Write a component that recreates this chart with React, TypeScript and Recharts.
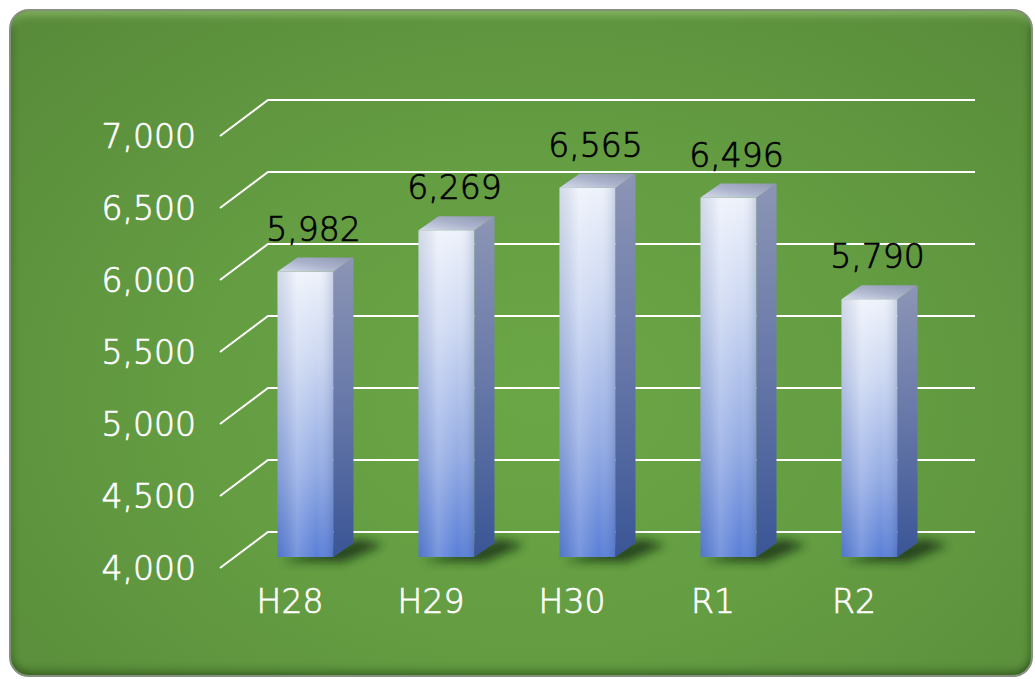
import React from 'react';
import { BarChart, Bar, XAxis, YAxis, CartesianGrid, LabelList } from 'recharts';

const categories = ['H28', 'H29', 'H30', 'R1', 'R2'];
const values = [5982, 6269, 6565, 6496, 5790];
const yTicks = [4000, 4500, 5000, 5500, 6000, 6500, 7000];

const data = categories.map((c, i) => ({ name: c, value: values[i] }));

const FONT = '"DejaVu Sans", Verdana, sans-serif';
const FW = 300;
const FS = 33;
const SW = 0.7;
const DX = 20;
const DY = 14;

const fmt = (v: number) => String(v).replace(/\B(?=(\d{3})+(?!\d))/g, ',');

const Bar3D = (props: any) => {
  const { x, y, width: w, height: h } = props;
  if (w == null || h == null) return null;
  const b = y + h;
  return (
    <g>
      <polygon
        points={`${x + 4},${b + 4} ${x + w + 10},${b + 5} ${x + w + DX + 30},${b - DY + 2} ${x + w + DX + 6},${b - DY - 4}`}
        fill="#0d200a"
        opacity={0.7}
        filter="url(#shadowBlur)"
      />
      <rect x={x} y={y} width={w} height={h} fill="url(#frontV)" />
      <rect x={x} y={y} width={w} height={h} fill="url(#frontH)" />
      <polygon
        points={`${x + w},${y} ${x + w + DX},${y - DY} ${x + w + DX},${b - DY} ${x + w},${b}`}
        fill="url(#sideV)"
      />
      <polygon
        points={`${x},${y} ${x + DX},${y - DY} ${x + w + DX},${y - DY} ${x + w},${y}`}
        fill="url(#topG)"
      />
    </g>
  );
};

const gridLine = (p: any) => {
  const { x1, x2, y1, index } = p;
  return (
    <polyline
      key={`g-${index}-${y1}`}
      points={`${x1 - 14.5},${y1 + 11} ${x1 + 33.5},${y1 - 25} ${x2 + 35.5},${y1 - 25}`}
      fill="none"
      stroke="#ffffff"
      strokeWidth={2}
    />
  );
};

const YTick = (p: any) => {
  const { x, y, payload } = p;
  return (
    <text x={x} y={y + 11} dy="0.36em" textAnchor="end" fill="#ffffff" stroke="#ffffff" strokeWidth={SW} fontSize={FS} fontWeight={FW} fontFamily={FONT}>
      {fmt(payload.value)}
    </text>
  );
};

const XTick = (p: any) => {
  const { x, y, payload } = p;
  return (
    <text x={x - 15} y={y + 36} dy="0.36em" textAnchor="middle" fill="#ffffff" stroke="#ffffff" strokeWidth={SW} fontSize={FS} fontWeight={FW} fontFamily={FONT}>
      {payload.value}
    </text>
  );
};

const ValueLabel = (p: any) => {
  const { x, y, width, value } = p;
  return (
    <text x={x + width / 2 + 8} y={y - 31} textAnchor="middle" fill="#000000" stroke="#000000" strokeWidth={SW} fontSize={FS} fontWeight={FW} fontFamily={FONT}>
      {fmt(value)}
    </text>
  );
};

export default function App() {
  return (
    <div style={{ position: 'absolute', left: 0, top: 0, width: 1035, height: 679, background: '#ffffff' }}>
      <svg width={0} height={0} style={{ position: 'absolute' }}>
        <defs>
          <linearGradient id="frontV" x1="0" y1="0" x2="0" y2="1">
            <stop offset="0" stopColor="#eef2fb" />
            <stop offset="0.3" stopColor="#cdd8f2" />
            <stop offset="0.7" stopColor="#93abe4" />
            <stop offset="1" stopColor="#5a7fd7" />
          </linearGradient>
          <linearGradient id="frontH" x1="0" y1="0" x2="1" y2="0">
            <stop offset="0" stopColor="#28407a" stopOpacity={0.14} />
            <stop offset="0.35" stopColor="#ffffff" stopOpacity={0.18} />
            <stop offset="0.7" stopColor="#ffffff" stopOpacity={0.0} />
            <stop offset="1" stopColor="#28407a" stopOpacity={0.2} />
          </linearGradient>
          <linearGradient id="sideV" x1="0" y1="0" x2="0" y2="1">
            <stop offset="0" stopColor="#8c95b5" />
            <stop offset="0.5" stopColor="#6677a8" />
            <stop offset="1" stopColor="#3a5596" />
          </linearGradient>
          <linearGradient id="topG" x1="0" y1="1" x2="1" y2="0">
            <stop offset="0" stopColor="#d4dbec" />
            <stop offset="0.5" stopColor="#aab2cb" />
            <stop offset="1" stopColor="#8e96b2" />
          </linearGradient>
          <filter id="shadowBlur" x="-50%" y="-100%" width="200%" height="300%">
            <feGaussianBlur stdDeviation="5" />
          </filter>
        </defs>
      </svg>
      <div
        style={{
          position: 'absolute',
          left: 9,
          top: 9,
          width: 1024,
          height: 668,
          boxSizing: 'border-box',
          borderRadius: 20,
          border: '2px solid #86907f',
          background: 'radial-gradient(ellipse at 52% 58%, #6ba646 0%, #649d42 45%, #588a39 100%)',
          boxShadow:
            'inset 0 10px 8px -6px rgba(190,230,150,0.45), inset 0 -8px 8px -4px rgba(20,50,10,0.45), inset 6px 0 6px -4px rgba(20,50,10,0.2), inset -6px 0 6px -4px rgba(20,50,10,0.3)',
        }}
      />
      <div style={{ position: 'absolute', left: 0, top: 0 }}>
        <BarChart
          width={1035}
          height={679}
          data={data}
          margin={{ top: 125, right: 95.5, left: 134.5, bottom: 62 }}
        >
          <CartesianGrid vertical={false} horizontal={gridLine} />
          <XAxis dataKey="name" axisLine={false} tickLine={false} height={60} tick={<XTick />} />
          <YAxis
            type="number"
            domain={[4000, 7000]}
            ticks={yTicks}
            interval={0}
            axisLine={false}
            tickLine={false}
            width={100}
            tickMargin={32.5}
            tick={<YTick />}
          />
          <Bar dataKey="value" barSize={56} shape={<Bar3D />} isAnimationActive={false}>
            <LabelList dataKey="value" content={<ValueLabel />} />
          </Bar>
        </BarChart>
      </div>
    </div>
  );
}
